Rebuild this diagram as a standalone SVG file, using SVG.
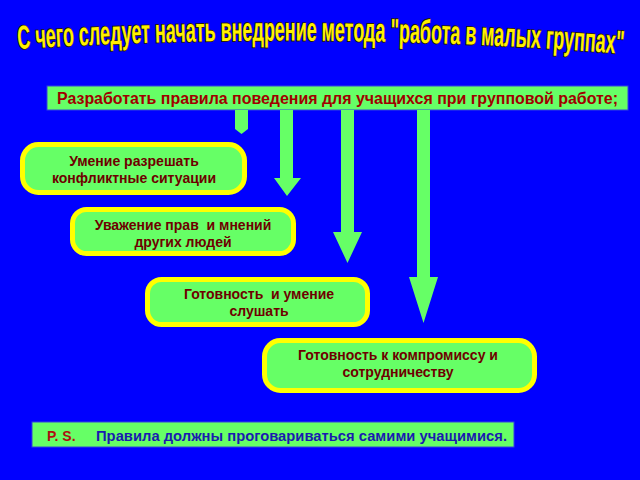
<svg xmlns="http://www.w3.org/2000/svg" width="640" height="480" viewBox="0 0 640 480">
  <defs>
    <style>
      .node rect { fill: #66FF66; stroke: #FFFF00; stroke-width: 5; }
      .lbl { font-family: "Liberation Sans", Arial, sans-serif; font-weight: bold; }
      .node text { font-size: 14px; fill: #6E0000; text-anchor: middle; }
      .arrow { fill: #66FF66; }
      .title { font-family: "Liberation Sans", Arial, sans-serif; font-weight: bold; font-size: 33px; fill: #FFF000; stroke: #2A1E00; stroke-width: 1.8; paint-order: stroke; }
    </style>
    <path id="arc" d="M 18 49 Q 320 30 626 54"/>
  </defs>
  <rect width="640" height="480" fill="#0000FF"/>

  <g id="title">
    <text class="title" textLength="606" lengthAdjust="spacingAndGlyphs"><textPath href="#arc" textLength="606" lengthAdjust="spacingAndGlyphs">С чего следует начать внедрение метода "работа в малых группах"</textPath></text>
  </g>

  <g id="top-bar">
    <rect x="47" y="86" width="581" height="24" fill="#66FF66" stroke="#3344DD" stroke-width="1"/>
    <text class="lbl" x="57" y="104" font-size="16" fill="#A00000" textLength="561" lengthAdjust="spacingAndGlyphs">Разработать правила поведения для учащихся при групповой работе;</text>
  </g>

  <g id="connectors">
    <polygon class="arrow" points="235,110 248,110 248,129 241.5,134 235,129"/>
    <polygon class="arrow" points="280,110 293,110 293,178 301,178 287,196 274,178 280,178"/>
    <polygon class="arrow" points="341,110 354,110 354,232 362,232 347.5,263 333,232 341,232"/>
    <polygon class="arrow" points="417,110 430,110 430,277 438,277 423.5,323 409,277 417,277"/>
  </g>

  <g id="node1" class="node">
    <rect x="22.5" y="144.5" width="222" height="48" rx="16"/>
    <text class="lbl" x="134" y="166">Умение разрешать</text>
    <text class="lbl" x="134" y="183">конфликтные ситуации</text>
  </g>

  <g id="node2" class="node">
    <rect x="72.5" y="209.5" width="221" height="44" rx="14"/>
    <text class="lbl" x="183" y="230" xml:space="preserve">Уважение прав  и мнений</text>
    <text class="lbl" x="183" y="247">других людей</text>
  </g>

  <g id="node3" class="node">
    <rect x="147.5" y="279.5" width="220" height="45" rx="14"/>
    <text class="lbl" x="259" y="299" xml:space="preserve">Готовность  и умение</text>
    <text class="lbl" x="259" y="316">слушать</text>
  </g>

  <g id="node4" class="node">
    <rect x="264.5" y="340.5" width="270" height="50" rx="16"/>
    <text class="lbl" x="398" y="360">Готовность к компромиссу и</text>
    <text class="lbl" x="398" y="377">сотрудничеству</text>
  </g>

  <g id="ps">
    <rect x="32" y="422" width="482" height="25" fill="#66FF66" stroke="#3344DD" stroke-width="1"/>
    <text class="lbl" x="47" y="441" font-size="14" fill="#B01010">P. S.</text>
    <text class="lbl" x="96" y="441" font-size="14" fill="#1A1AB0" textLength="411" lengthAdjust="spacingAndGlyphs">Правила должны проговариваться самими учащимися.</text>
  </g>
</svg>
